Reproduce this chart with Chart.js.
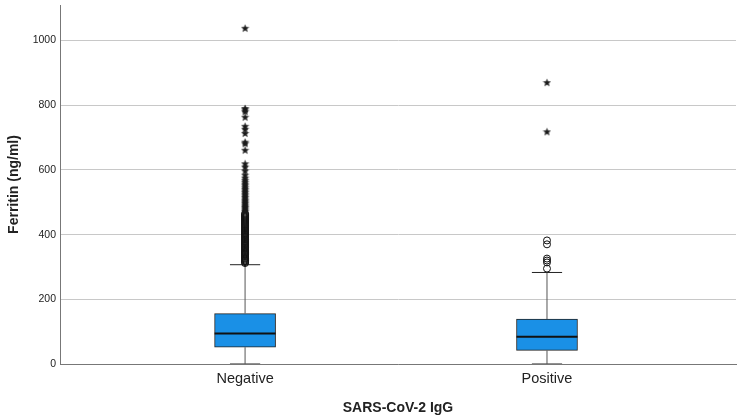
<!DOCTYPE html>
<html><head><meta charset="utf-8">
<script src="https://cdn.jsdelivr.net/npm/chart.js@4.4.0/dist/chart.umd.min.js"></script>
<style>html,body{margin:0;padding:0;background:#fff;} #wrap{width:738px;height:419px;position:relative;}</style>
</head><body><div id="wrap"><canvas id="c"></canvas></div>
<script>
const categories = ['Negative', 'Positive'];
const categoryX = [1, 2];
const whiskerLow = [0, 0];
const q1 = [52, 42];
const median = [94, 84];
const q3 = [156, 139];
const whiskerHigh = [307, 283];
const mildNegative = [312, 315, 318, 320, 323, 326, 328, 331, 334, 337, 339, 342, 345, 347, 350, 353, 356, 359, 361, 364, 367, 370, 372, 375, 378, 381, 384, 386, 389, 392, 395, 398, 400, 403, 406, 409, 412, 414, 417, 420, 423, 426, 429, 432, 435, 438, 441, 444, 447, 450, 453, 456, 459, 462, 465];
const mildPositive = [382, 370, 326, 320, 314, 295];
const extremeNegative = [1038, 790, 786, 780, 763, 735, 726, 713, 686, 681, 661, 619, 609, 597, 584, 575, 568, 562, 556, 551, 545, 540, 535, 530, 525, 520, 515, 510, 505, 501, 497, 492, 488, 484, 480, 476, 472];
const extremePositive = [870, 718];
const yTicks = [0, 200, 400, 600, 800, 1000];

const mildOutliers = [mildNegative, mildPositive];
const extremeOutliers = [extremeNegative, extremePositive];

// five-pointed star marker
const star = document.createElement('canvas');
star.width = 9; star.height = 9;
(function () {
  const g = star.getContext('2d');
  g.beginPath();
  for (let k = 0; k < 10; k++) {
    const r = k % 2 === 0 ? 4.3 : 1.9;
    const a = -Math.PI / 2 + k * Math.PI / 5;
    const px = 4.5 + r * Math.cos(a), py = 4.7 + r * Math.sin(a);
    if (k === 0) g.moveTo(px, py); else g.lineTo(px, py);
  }
  g.closePath();
  g.fillStyle = '#1a1a1a';
  g.fill();
})();

const CAP = 0.05, HALF = 0.101;
const datasets = [];
const seg = (pts, color, width, order) => ({
  type: 'line', data: pts, borderColor: color, borderWidth: width,
  pointRadius: 0, fill: false, order: order, tension: 0
});
categoryX.forEach((x, i) => {
  datasets.push({
    type: 'scatter', data: extremeOutliers[i].map(v => ({x: x, y: v})),
    pointStyle: star, pointRadius: 4.5, order: 0
  });
  datasets.push({
    type: 'scatter', data: mildOutliers[i].map(v => ({x: x, y: v})),
    pointStyle: 'circle', pointRadius: 3.5, borderWidth: 1,
    borderColor: '#111', backgroundColor: 'rgba(0,0,0,0)', order: 0
  });
  datasets.push(seg([{x: x - HALF, y: median[i]}, {x: x + HALF, y: median[i]}], '#111', 2, 1));
  datasets.push(seg([{x: x, y: whiskerLow[i]}, {x: x, y: q1[i]}], '#555', 1, 2));
  datasets.push(seg([{x: x, y: q3[i]}, {x: x, y: whiskerHigh[i]}], '#555', 1, 2));
  datasets.push(seg([{x: x - CAP, y: whiskerLow[i]}, {x: x + CAP, y: whiskerLow[i]}], '#222', 1, 2));
  datasets.push(seg([{x: x - CAP, y: whiskerHigh[i]}, {x: x + CAP, y: whiskerHigh[i]}], '#222', 1, 2));
});
datasets.push({
  type: 'bar', data: categoryX.map((x, i) => ({x: x, y: [q1[i], q3[i]]})),
  backgroundColor: '#1a90e6', borderColor: '#222', borderWidth: 1,
  borderSkipped: false, barThickness: 61, grouped: false, order: 3
});

new Chart(document.getElementById('c'), {
  type: 'bar',
  data: {datasets: datasets},
  options: {
    responsive: true, maintainAspectRatio: false, animation: false,
    layout: {autoPadding: false, padding: {top: 5, right: 2, left: 0, bottom: 0}},
    plugins: {legend: {display: false}, tooltip: {enabled: false}},
    scales: {
      x: {
        type: 'linear', min: 0.387, max: 2.626, offset: false,
        afterBuildTicks: s => { s.ticks = categoryX.map(v => ({value: v})); },
        afterFit: s => { s.height = 55; s.paddingLeft = 0; s.paddingRight = 0; },
        grid: {display: false, drawTicks: false, offset: false},
        border: {display: true, color: '#777', width: 1},
        ticks: {
          padding: 6, color: '#222', autoSkip: false, maxRotation: 0,
          font: {family: 'Liberation Sans', size: 14.5},
          callback: v => categories[categoryX.indexOf(v)]
        },
        title: {
          display: true, text: 'SARS-CoV-2 IgG', color: '#222',
          font: {family: 'Liberation Sans', size: 14, weight: 'bold'},
          padding: {top: 0, bottom: 2}
        }
      },
      y: {
        type: 'linear', min: 0, max: 1110,
        afterBuildTicks: s => { s.ticks = yTicks.map(v => ({value: v})); },
        afterFit: s => { s.width = 60; s.paddingTop = 0; s.paddingBottom = 0; },
        grid: {color: '#c8c8c8', lineWidth: 1, drawTicks: false},
        border: {display: true, color: '#777', width: 1},
        ticks: {
          padding: 4, color: '#222',
          font: {family: 'Liberation Sans', size: 10.5},
          callback: v => String(v)
        },
        title: {
          display: true, text: 'Ferritin (ng/ml)', color: '#222',
          font: {family: 'Liberation Sans', size: 14, weight: 'bold'},
          padding: {top: 6, bottom: 0}
        }
      }
    }
  }
});
</script>
</body></html>
